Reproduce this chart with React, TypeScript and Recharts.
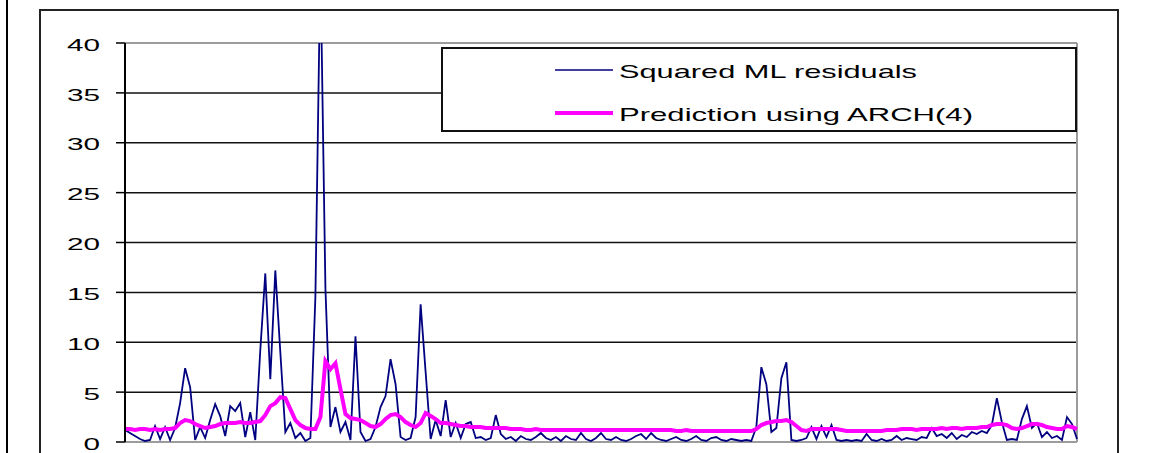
import React from 'react';
import { LineChart, Line, XAxis, YAxis, CartesianGrid, ReferenceLine } from 'recharts';

const residuals = [
  1.2, 0.9, 0.6, 0.3, 0.1, 0.2, 1.6, 0.3, 1.5, 0.2,
  1.4, 3.9, 7.4, 5.5, 0.2, 1.5, 0.4, 2.2, 3.8, 2.6,
  0.6, 3.6, 3.1, 3.9, 0.5, 3.0, 0.2, 9.2, 16.9, 6.3,
  17.2, 9.0, 1.0, 1.9, 0.4, 0.9, 0.1, 0.4, 14.6, 48,
  15.4, 1.5, 3.5, 1.0, 2.0, 0.2, 10.6, 1.0, 0.1, 0.3,
  1.5, 3.5, 4.6, 8.3, 5.8, 0.5, 0.2, 0.4, 2.5, 13.8,
  7.0, 0.3, 2.2, 0.6, 4.2, 0.5, 1.9, 0.4, 1.8, 2.0,
  0.4, 0.5, 0.2, 0.4, 2.7, 0.8, 0.3, 0.5, 0.1, 0.6,
  0.3, 0.2, 0.5, 0.9, 0.4, 0.2, 0.5, 0.1, 0.6, 0.3,
  0.2, 0.9, 0.3, 0.1, 0.4, 0.9, 0.3, 0.2, 0.5, 0.2,
  0.1, 0.3, 0.6, 0.8, 0.3, 0.9, 0.4, 0.2, 0.1, 0.3,
  0.5, 0.2, 0.1, 0.3, 0.6, 0.2, 0.1, 0.4, 0.5, 0.2,
  0.1, 0.3, 0.2, 0.1, 0.2, 0.1, 1.5, 7.5, 5.8, 1.0,
  1.4, 6.4, 8.0, 0.2, 0.1, 0.2, 0.4, 1.5, 0.3, 1.6,
  0.5, 1.7, 0.2, 0.1, 0.2, 0.1, 0.2, 0.1, 0.8, 0.2,
  0.1, 0.3, 0.1, 0.2, 0.6, 0.2, 0.4, 0.3, 0.2, 0.5,
  0.4, 1.4, 0.6, 0.8, 0.4, 0.9, 0.3, 0.7, 0.5, 1.0,
  0.8, 1.1, 0.9, 1.7, 4.4, 2.0, 0.2, 0.3, 0.2, 2.3,
  3.6, 1.4, 1.9, 0.5, 1.0, 0.4, 0.6, 0.2, 2.5, 1.8,
  0.3,
];

// ARCH(4) predicted variance
const prediction = [
  1.3, 1.3, 1.2, 1.3, 1.3, 1.2, 1.3, 1.2, 1.3, 1.3,
  1.4, 1.9, 2.2, 2.1, 1.8, 1.6, 1.4, 1.5, 1.6, 1.8,
  1.9, 1.9, 1.9, 2.0, 1.9, 1.9, 2.0, 2.1, 2.7, 3.6,
  3.9, 4.5, 4.4, 3.3, 2.2, 1.7, 1.4, 1.3, 1.3, 2.5,
  8.1, 7.3, 7.9, 5.3, 2.8, 2.4, 2.3, 2.2, 1.9, 1.6,
  1.5, 1.8, 2.3, 2.7, 2.8, 2.5, 2.0, 1.7, 1.5, 1.9,
  2.9, 2.6, 2.3, 1.9, 1.9, 1.8, 1.7, 1.6, 1.6, 1.5,
  1.5, 1.5, 1.4, 1.4, 1.4, 1.4, 1.4, 1.3, 1.3, 1.3,
  1.2, 1.2, 1.3, 1.2, 1.2, 1.2, 1.2, 1.2, 1.2, 1.2,
  1.2, 1.2, 1.2, 1.2, 1.2, 1.2, 1.2, 1.2, 1.2, 1.2,
  1.2, 1.2, 1.2, 1.2, 1.2, 1.2, 1.2, 1.2, 1.2, 1.2,
  1.1, 1.1, 1.2, 1.1, 1.1, 1.1, 1.1, 1.1, 1.1, 1.1,
  1.1, 1.1, 1.1, 1.1, 1.1, 1.1, 1.3, 1.7, 1.9, 2.0,
  2.1, 2.1, 2.2, 2.0, 1.6, 1.2, 1.1, 1.3, 1.3, 1.3,
  1.3, 1.3, 1.3, 1.2, 1.1, 1.1, 1.1, 1.1, 1.1, 1.1,
  1.1, 1.1, 1.2, 1.2, 1.2, 1.3, 1.3, 1.3, 1.2, 1.3,
  1.3, 1.3, 1.3, 1.4, 1.3, 1.4, 1.4, 1.3, 1.4, 1.4,
  1.4, 1.5, 1.5, 1.7, 1.8, 1.8, 1.7, 1.4, 1.3, 1.4,
  1.6, 1.8, 1.8, 1.7, 1.5, 1.4, 1.3, 1.3, 1.6, 1.5,
  1.3,
];

const yTicks = [0, 5, 10, 15, 20, 25, 30, 35, 40];
const gridValues = [5, 10, 15, 20, 25, 30, 35];
const seriesNames = ['Squared ML residuals', 'Prediction using ARCH(4)'];

const data = residuals.map((r, i) => ({ i, resid: r, pred: prediction[i] }));

const FONT = '"Liberation Sans", Arial, sans-serif';

// old excel-ish digits are wide, so squeeze them into a fixed width
const YTick = (props: any) => {
  const { x, y, payload } = props;
  const s = String(payload.value);
  return (
    <text
      x={x - 14}
      y={y + 7.7}
      textAnchor="end"
      fontSize={16}
      fontFamily={FONT}
      fill="#000"
      textLength={s.length * 16.5}
      lengthAdjust="spacingAndGlyphs"
    >
      {s}
    </text>
  );
};

function LegendBox() {
  return (
    <div
      style={{
        position: 'absolute',
        left: 441,
        top: 47,
        width: 636,
        height: 85,
        border: '2px solid #111',
        boxSizing: 'border-box',
        background: '#fff',
      }}
    >
      <svg width={632} height={81} style={{ display: 'block' }}>
        <line x1={112} x2={170} y1={21} y2={21} stroke="#000080" strokeWidth={1.5} />
        <text x={176} y={29} fontSize={19} fontFamily={FONT} fill="#000" textLength={298} lengthAdjust="spacingAndGlyphs">
          {seriesNames[0]}
        </text>
        <line x1={112} x2={170} y1={64} y2={64} stroke="#ff00ff" strokeWidth={4} />
        <text x={176} y={72} fontSize={19} fontFamily={FONT} fill="#000" textLength={354} lengthAdjust="spacingAndGlyphs">
          {seriesNames[1]}
        </text>
      </svg>
    </div>
  );
}

export default function App() {
  return (
    <div
      style={{
        position: 'absolute',
        left: 0,
        top: 0,
        width: 1150,
        height: 453,
        overflow: 'hidden',
        background: '#fff',
        fontFamily: FONT,
      }}
    >
      <div style={{ position: 'absolute', left: 6, top: 0, width: 2, height: 453, background: '#000' }} />
      <div
        style={{
          position: 'absolute',
          left: 39,
          top: 9,
          width: 1080,
          height: 520,
          border: '2px solid #222',
          boxSizing: 'border-box',
        }}
      />
      <div style={{ position: 'absolute', left: 0, top: 0 }}>
        <LineChart width={1150} height={453} data={data} margin={{ top: 43, right: 73, bottom: 11, left: 65 }}>
          <CartesianGrid
            horizontal
            vertical={false}
            horizontalValues={gridValues}
            stroke="#111"
            strokeWidth={1.5}
          />
          <XAxis dataKey="i" type="number" domain={[0, 190]} hide />
          <YAxis
            width={60}
            domain={[0, 40]}
            ticks={yTicks}
            allowDataOverflow
            interval={0}
            axisLine={{ stroke: '#000', strokeWidth: 2 }}
            tickLine={{ stroke: '#000', strokeWidth: 1.5 }}
            tickSize={9}
            tick={<YTick />}
          />
          <ReferenceLine y={40} stroke="#9c9c9c" strokeWidth={2} />
          <ReferenceLine y={0} stroke="#9c9c9c" strokeWidth={2} />
          <ReferenceLine x={190} stroke="#9c9c9c" strokeWidth={2} />
          <Line
            type="linear"
            dataKey="resid"
            name={seriesNames[0]}
            stroke="#000080"
            strokeWidth={1.8}
            dot={false}
            isAnimationActive={false}
          />
          <Line
            type="linear"
            dataKey="pred"
            name={seriesNames[1]}
            stroke="#ff00ff"
            strokeWidth={4}
            dot={false}
            isAnimationActive={false}
          />
        </LineChart>
      </div>
      <LegendBox />
    </div>
  );
}
